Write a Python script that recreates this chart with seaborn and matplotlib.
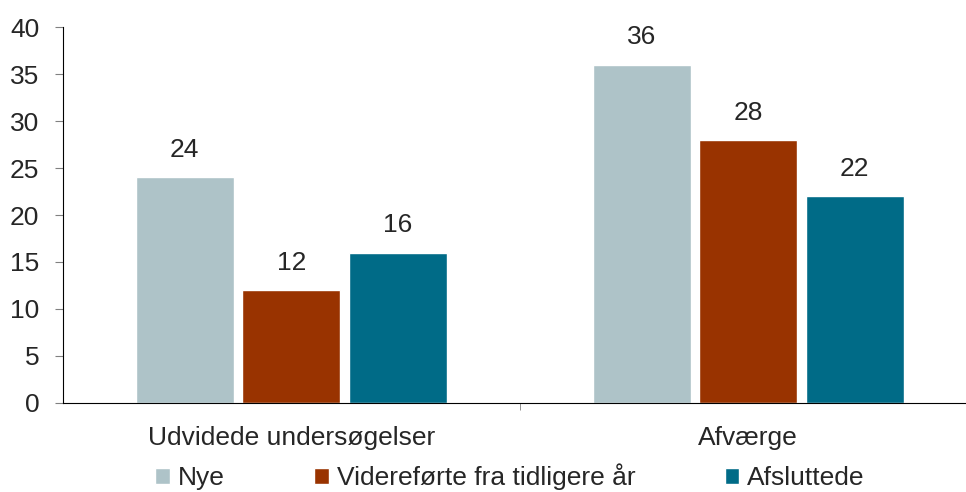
import pandas as pd
import matplotlib.pyplot as plt
import seaborn as sns
from matplotlib.ticker import MultipleLocator

# Data
categories = ['Udvidede undersøgelser', 'Afværge']
series = ['Nye', 'Videreførte fra tidligere år', 'Afsluttede']
nye = [24, 36]
viderefoerte = [12, 28]
afsluttede = [16, 22]
colors = ['#AEC3C8', '#993300', '#006B87']

df = pd.DataFrame({
    'Kategori': categories * 3,
    'Serie': [series[0]] * 2 + [series[1]] * 2 + [series[2]] * 2,
    'Antal': nye + viderefoerte + afsluttede,
})

sns.set_style('white')
plt.rcParams['font.family'] = ['Liberation Sans', 'DejaVu Sans']
fs = 19

fig = plt.figure(figsize=(9.66, 4.92), dpi=100)
# axes runs a bit past the right edge, like the original
ax = fig.add_axes([0.065, 0.181, 0.946, 0.764])

sns.barplot(data=df, x='Kategori', y='Antal', hue='Serie', palette=colors,
            width=0.70, gap=0.08, ax=ax, legend=True, saturation=1)

for c in ax.containers:
    ax.bar_label(c, fmt='%d', padding=11, fontsize=fs)

ax.set_ylim(0, 40)
ax.set_xlim(-0.5, 1.5)
ax.yaxis.set_major_locator(MultipleLocator(5))
ax.set_xlabel('')
ax.set_ylabel('')
ax.tick_params(axis='y', labelsize=fs, left=True, length=6, color='#808080', pad=11)
ax.set_xticks([0, 1])
ax.set_xticklabels(categories, fontsize=fs)
ax.set_xticks([0.5], minor=True)
ax.tick_params(axis='x', which='major', bottom=False, pad=13)
ax.tick_params(axis='x', which='minor', bottom=True, length=5, color='#808080')
for s in ['top', 'right']:
    ax.spines[s].set_visible(False)
ax.spines['left'].set_color('black')
ax.spines['bottom'].set_color('black')

handles, labels = ax.get_legend_handles_labels()
ax.get_legend().remove()
fig.legend(handles, labels, loc='lower center', bbox_to_anchor=(0.528, -0.044), ncol=3,
           frameon=False, fontsize=fs, handlelength=0.55, handleheight=0.55,
           handletextpad=0.3, columnspacing=3.4)

fig.savefig('out.png', dpi=100)
